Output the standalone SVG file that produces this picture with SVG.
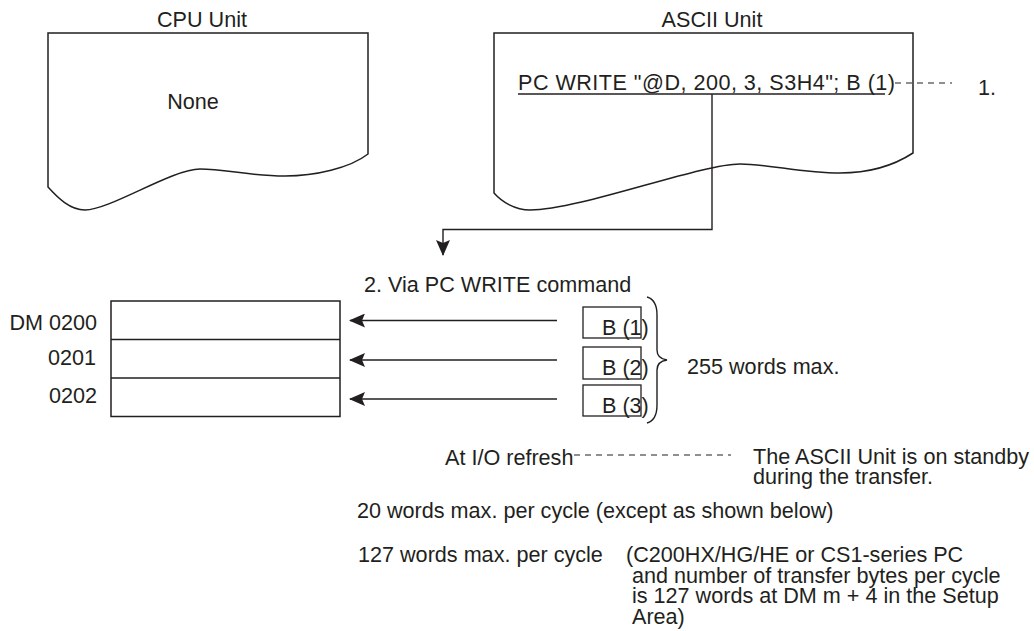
<svg xmlns="http://www.w3.org/2000/svg" width="1034" height="631" viewBox="0 0 1034 631">
<style>
text{font-family:"Liberation Sans",Arial,Helvetica,sans-serif;font-size:21.6px;fill:#231f20}
.ln{fill:none;stroke:#231f20;stroke-width:1.4}
.box{fill:#fff;stroke:#231f20;stroke-width:1.5}
.dash{fill:none;stroke:#231f20;stroke-width:1.2;stroke-dasharray:6 5}
.mid{text-anchor:middle}
.end{text-anchor:end}
</style>
<defs>
<marker id="ah" viewBox="0 0 16 14" refX="15" refY="7" markerWidth="16" markerHeight="14" markerUnits="userSpaceOnUse" orient="auto">
<path d="M0,0 L16,7 L0,14 L3,7 Z" fill="#231f20"/>
</marker>
</defs>
<rect width="1034" height="631" fill="#fff"/>

<g id="cpu-unit">
<text x="202" y="27" class="mid">CPU Unit</text>
<path class="box" d="M48,33 H368 V154 C350,168 315,176 285,176 C250,176 225,169 200,169 C172,169 110,210 85,210 C70,210 58,198 48,187 Z"/>
<text x="193" y="109" class="mid">None</text>
</g>

<g id="ascii-unit">
<text x="712" y="27" class="mid">ASCII Unit</text>
<path class="box" d="M494,33 H913 V153 C893,166 868,173 840,173 C800,173 770,164 740,164 C700,164 580,210 530,210 C515,210 502,202 494,193 Z"/>
<text x="518" y="90" textLength="377" lengthAdjust="spacing">PC WRITE "@D, 200, 3, S3H4"; B (1)</text>
<line class="ln" x1="518" y1="94" x2="885" y2="94"/>
</g>

<g id="step1-label">
<text x="978" y="95">1.</text>
</g>

<g id="step2-label">
<text x="364" y="292">2. Via PC WRITE command</text>
</g>

<g id="dm-table">
<rect class="box" x="111" y="301" width="229" height="115.5"/>
<line class="ln" x1="111" y1="339.5" x2="340" y2="339.5" style="stroke-width:1.5"/>
<line class="ln" x1="111" y1="378" x2="340" y2="378" style="stroke-width:1.5"/>
<text x="97" y="330" class="end">DM 0200</text>
<text x="96" y="365" class="end">0201</text>
<text x="97" y="403" class="end">0202</text>
</g>

<g id="b-buffers">
<rect class="box" x="583" y="307" width="58" height="31" style="stroke-width:1.3"/>
<rect class="box" x="583" y="347" width="58" height="32" style="stroke-width:1.3"/>
<rect class="box" x="583" y="385" width="58" height="31" style="stroke-width:1.3"/>
<text x="602" y="335">B (1)</text>
<text x="602" y="375">B (2)</text>
<text x="602" y="413">B (3)</text>
<path class="ln" d="M647,297 C654,299 657,305 657,315 V350 C657,356 660,359 667,360 C660,361 657,364 657,370 V405 C657,415 654,421 647,423"/>
<text x="687" y="374">255 words max.</text>
</g>

<g id="notes">
<text x="445" y="465">At I/O refresh</text>
<text x="753" y="464">The ASCII Unit is on standby</text>
<text x="753" y="484">during the transfer.</text>
<text x="357" y="518">20 words max. per cycle (except as shown below)</text>
<text x="358" y="562">127 words max. per cycle</text>
<text x="626" y="562">(C200HX/HG/HE or CS1-series PC</text>
<text x="632" y="582.5">and number of transfer bytes per cycle</text>
<text x="632" y="603">is 127 words at DM m + 4 in the Setup</text>
<text x="632" y="623.5">Area)</text>
</g>

<g id="connectors">
<polyline class="ln" points="712,94 712,229.5 443,229.5 443,255" marker-end="url(#ah)"/>
<line class="ln" x1="557" y1="320.5" x2="350" y2="320.5" marker-end="url(#ah)"/>
<line class="ln" x1="557" y1="360" x2="350" y2="360" marker-end="url(#ah)"/>
<line class="ln" x1="557" y1="399" x2="350" y2="399" marker-end="url(#ah)"/>
<line class="dash" x1="895" y1="83" x2="952" y2="83"/>
<line class="dash" x1="574" y1="455" x2="731" y2="455"/>
</g>
</svg>
